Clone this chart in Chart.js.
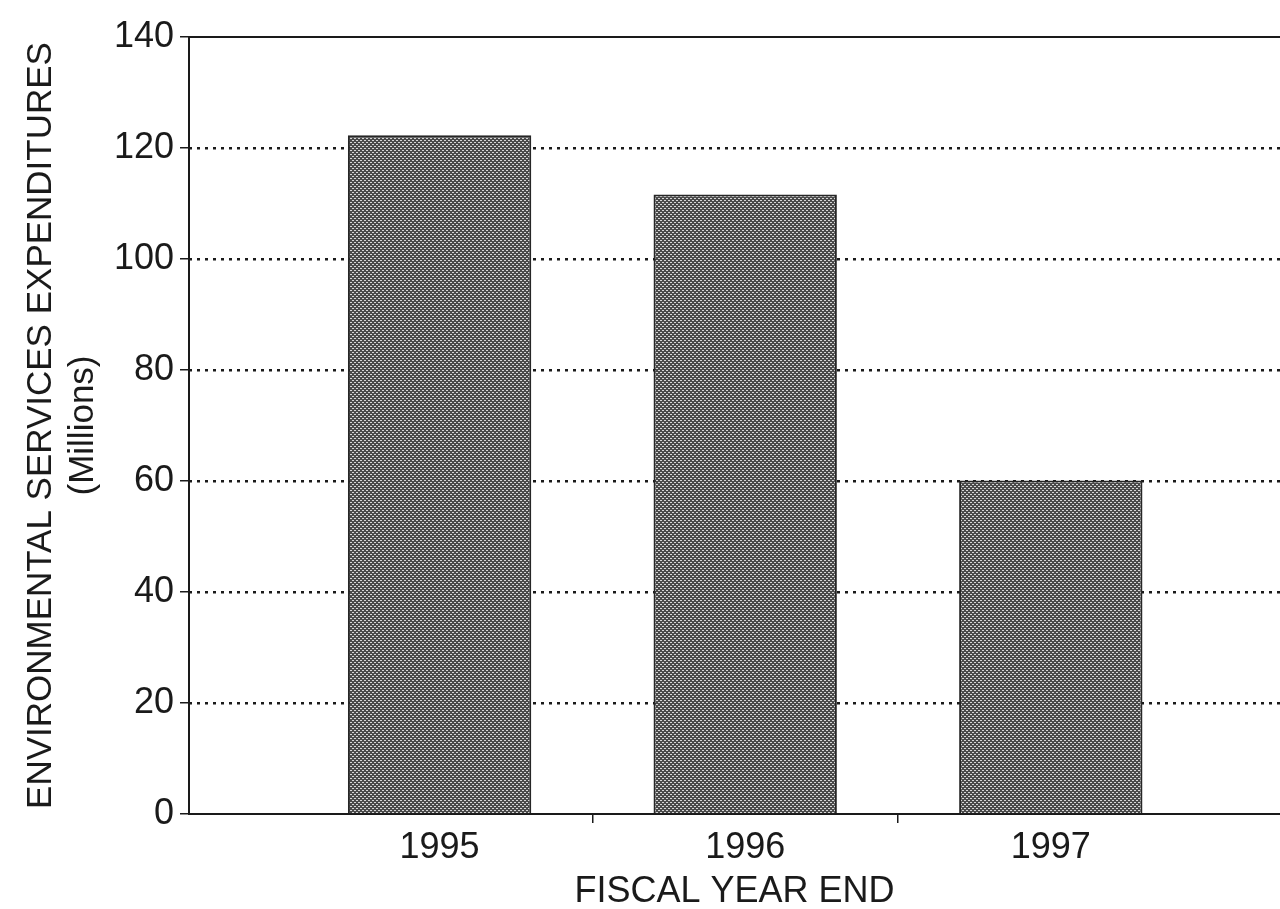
<!DOCTYPE html>
<html>
<head>
<meta charset="utf-8">
<script src="https://cdn.jsdelivr.net/npm/chart.js@4.4.1/dist/chart.umd.min.js"></script>
<style>
  html, body { margin: 0; padding: 0; background: #fff; overflow: hidden; }
  #wrap { width: 1280px; height: 909px; }
</style>
</head>
<body>
<div id="wrap"><canvas id="expChart" width="1280" height="909"></canvas></div>
<script>
// fiscal years and spending (millions)
const years = [1995, 1996, 1997]
const expenditures = [122.3, 111.6, 60.1]
const yTicks = [0, 20, 40, 60, 80, 100, 120, 140]

const yTitle = ['ENVIRONMENTAL SERVICES EXPENDITURES', '(Millions)']
const xTitle = 'FISCAL YEAR END'

const ink = '#1a1a1a'
const font = 'Liberation Sans, Arial, Helvetica, sans-serif'

// halftone-ish fill like the printed original
function barPattern() {
    var c = document.createElement('canvas')
    c.width = 4
    c.height = 4
    var g = c.getContext('2d')
    g.fillStyle = '#4a4a4a'
    g.fillRect(0, 0, 4, 4)
    g.fillStyle = '#d6d6d6'
    g.fillRect(0, 0, 2, 1)
    g.fillRect(2, 2, 2, 1)
    return g.createPattern(c, 'repeat')
}

window.onload = () => {
    var canvas = document.getElementById('expChart')
    var ctx = canvas.getContext('2d')

    let points = []
    years.forEach((y, i) => {
        points.push({ x: y, y: expenditures[i] })
    })

    new Chart(ctx, {
        type: 'bar',
        data: {
            datasets: [{
                data: points,
                backgroundColor: barPattern(),
                borderColor: '#262626',
                borderWidth: 2,
                barPercentage: 0.6,
                categoryPercentage: 1
            }]
        },
        options: {
            responsive: false,
            animation: false,
            layout: { padding: { top: 37, right: 0, left: 0, bottom: 0 } },
            plugins: { legend: { display: false }, tooltip: { enabled: false } },
            scales: {
                x: {
                    type: 'linear',
                    offset: false,
                    min: 1994.18,
                    max: 1997.75,
                    afterBuildTicks: s => { s.ticks = years.map(v => ({ value: v })) },
                    afterFit: s => { s.height = 95 },
                    ticks: {
                        color: ink,
                        padding: 3,
                        font: { family: font, size: 36 },
                        callback: v => String(v),
                        maxRotation: 0,
                        autoSkip: false
                    },
                    grid: {
                        offset: true,
                        drawOnChartArea: false,
                        drawTicks: true,
                        tickLength: 9,
                        lineWidth: 1.5,
                        color: c => (c.index === 1 || c.index === 2) ? ink : 'rgba(0,0,0,0)'
                    },
                    border: { display: true, color: ink, width: 2 },
                    title: {
                        display: true,
                        text: xTitle,
                        color: ink,
                        font: { family: font, size: 36 },
                        padding: { top: 0, bottom: -5 }
                    }
                },
                y: {
                    min: 0,
                    max: 140,
                    afterBuildTicks: s => { s.ticks = yTicks.map(v => ({ value: v })) },
                    afterFit: s => { s.width = 189 },
                    ticks: {
                        color: ink,
                        padding: 6,
                        font: { family: font, size: 36 }
                    },
                    grid: {
                        drawOnChartArea: false,
                        drawTicks: true,
                        tickLength: 9,
                        lineWidth: 1.5,
                        color: ink
                    },
                    border: { display: true, color: ink, width: 2 },
                    title: {
                        display: true,
                        text: yTitle,
                        color: ink,
                        font: { family: font, size: 35, lineHeight: 1.2 },
                        padding: { top: 20, bottom: 0 }
                    }
                },
                // dotted reference lines across the plot, solid frame at the top
                yGrid: {
                    position: 'right',
                    min: 0,
                    max: 140,
                    afterBuildTicks: s => { s.ticks = yTicks.map(v => ({ value: v })) },
                    ticks: { display: false },
                    border: {
                        display: false,
                        dash: c => (c.tick && (c.tick.value === 140 || c.tick.value === 0)) ? [] : [3, 5]
                    },
                    grid: {
                        drawTicks: false,
                        lineWidth: c => (c.tick && c.tick.value === 140) ? 2 : 2.5,
                        color: c => (c.tick && c.tick.value === 0) ? 'rgba(0,0,0,0)' : ink
                    }
                }
            }
        }
    })
}
</script>
</body>
</html>
